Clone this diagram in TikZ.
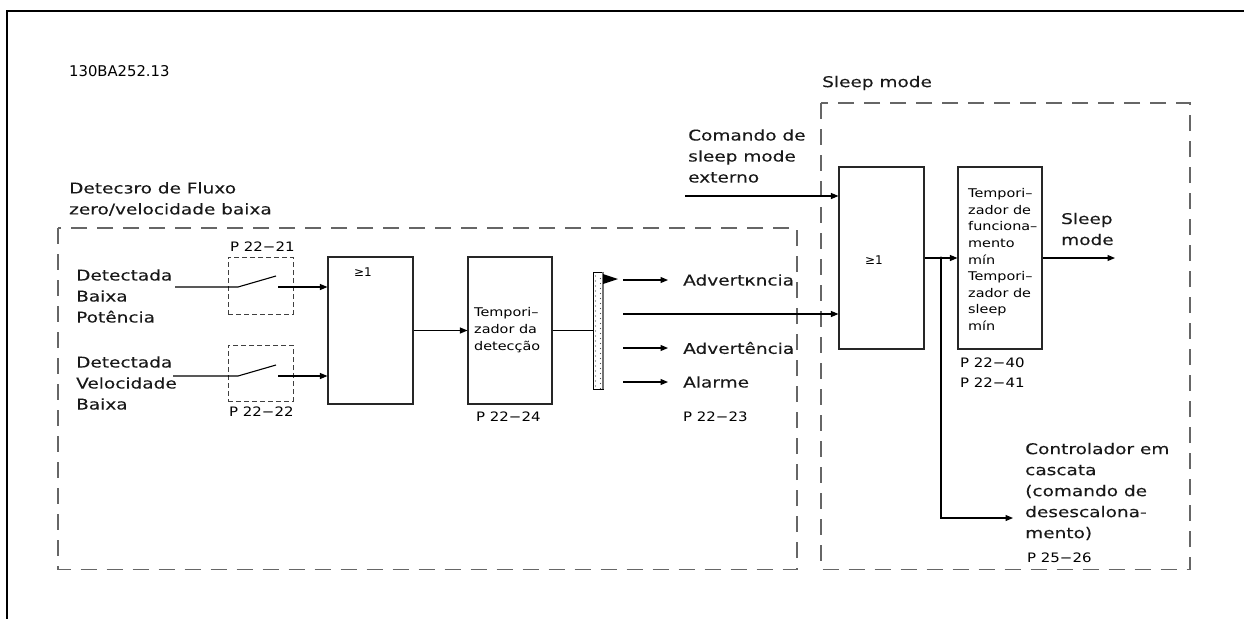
\documentclass[tikz,border=0pt]{standalone}
\usepackage{fontspec}
\usetikzlibrary{arrows.meta}
\newfontfamily\bigf[FakeStretch=1.25,FakeBold=0.1]{DejaVu Sans}
\newfontfamily\cadf[FakeStretch=1.2]{DejaVu Sans}
\newfontfamily\plabf[FakeStretch=1.15]{DejaVu Sans}
\newfontfamily\plainf{DejaVu Sans}
\begin{document}
\begin{tikzpicture}[x=1pt,y=-1pt,
  big/.style={font=\bigf\fontsize{14.8}{21}\selectfont, text=black!90, inner sep=0, align=left, anchor=west},
  cad/.style={font=\cadf\fontsize{12}{16.6}\selectfont, inner sep=0, align=left, anchor=west},
  plab/.style={font=\plabf\fontsize{13}{20}\selectfont, inner sep=0, anchor=west},
  gesym/.style={font=\plainf\fontsize{12}{14}\selectfont, inner sep=0},
  blk/.style={draw=black!85, line width=1.1pt, inner sep=0},
  grp/.style={draw=black!60, line width=1.3pt, dash pattern=on 16pt off 10pt},
  swb/.style={draw=black!75, line width=1pt, dash pattern=on 5pt off 3pt, inner sep=0},
  wire/.style={line width=1.1pt},
  arr/.style={wire, -{Triangle[length=7.5pt,width=6pt]}},
]
\useasboundingbox (0,0) rectangle (1244,619);
% outer frame
\draw[line width=1.2pt] (1244,11) -- (7,11) -- (7,619);

% group boxes
\draw[grp] (58,228) rectangle (797,569.5);
\draw[grp] (821,103) rectangle (1190,569.5);

% labels
\node[plab, font=\plainf\fontsize{14.8}{16}\selectfont] (id) at (69,71) {130BA252.13};
\node[big] (t1) at (69,199) {Detecзro de Fluxo\\zero/velocidade baixa};
\node[big] (t2) at (822,83) {Sleep mode};

% inputs
\node[big] (in1) at (76,296) {Detectada\\Baixa\\Potência};
\node[big] (in2) at (76,383) {Detectada\\Velocidade\\Baixa};

% switches
\node[swb, minimum width=65, minimum height=57] (sw1) at (260.5,285.5) {};
\node[swb, minimum width=65, minimum height=56] (sw2) at (260.5,373) {};
\node[plab] (p2221) at (230,247) {P 22−21};
\node[plab] (p2222) at (229,412) {P 22−22};

% OR 1
\node[blk, minimum width=85, minimum height=147] (or1) at (370.5,330.5) {};
\node[gesym] (ge1) at (363,272) {≥1};

% timer 1
\node[blk, minimum width=84, minimum height=147] (tm1) at (510,330.5) {};
\node[cad] (tm1t) at (474,330) {Tempori–\\zador da\\detecção};
\node[plab] (p2224) at (476,417) {P 22−24};

% bar
\node[draw=black, line width=0.9pt, minimum width=10, minimum height=117, inner sep=0] (bar) at (598,330.5) {};
\foreach \yy in {276,281,...,386} {
  \fill[black!70] (595.5,\yy) circle (0.55);
  \fill[black!70] (600.5,\yy+2.5) circle (0.55);
}
\draw[line width=2pt, black!55] (bar.north east) -- (bar.south east);
\fill (603,274) -- (618,279) -- (603,284) -- cycle;

% switch wires
\coordinate (s1a) at (175,287);
\coordinate (s1b) at (238,287);
\coordinate (s1c) at (276,276);
\coordinate (s1d) at (278,287);
\draw[wire] (s1a) -- (s1b) -- (s1c);
\draw[arr] (s1d) -- (s1d -| or1.west);
\coordinate (s2a) at (173,376);
\coordinate (s2b) at (238,376);
\coordinate (s2c) at (276,365);
\coordinate (s2d) at (278,376);
\draw[wire] (s2a) -- (s2b) -- (s2c);
\draw[arr] (s2d) -- (s2d -| or1.west);

\draw[arr] (or1.east) -- (tm1.west);
\draw[wire] (tm1.east) -- (bar.west);

% outputs
\node[big] (adv1) at (683,280) {Advertкncia};
\node[big] (adv2) at (683,348) {Advertência};
\node[big] (alm) at (683,382) {Alarme};
\node[plab] (p2223) at (683,417) {P 22−23};
\coordinate (a1) at (623,280);
\coordinate (a2) at (623,348);
\coordinate (a3) at (623,382);
\coordinate (b0) at (623,314);
\draw[arr] (a1) -- ([xshift=-15pt]adv1.west);
\draw[arr] (a2) -- ([xshift=-15pt]adv2.west);
\draw[arr] (a3) -- ([xshift=-15pt]alm.west);

% sleep mode part
\node[big] (cmd) at (688,156) {Comando de\\sleep mode\\externo};
\node[blk, minimum width=85, minimum height=182] (or2) at (881.5,258) {};
\node[gesym] (ge2) at (874,260) {≥1};
\node[blk, minimum width=84, minimum height=182] (tm2) at (1000,258) {};
\node[cad] (tm2t) at (968,259.5) {Tempori–\\zador de\\funciona–\\mento\\mín\\Tempori–\\zador de\\sleep\\mín};
\node[plab] (p2240) at (960,363) {P 22−40};
\node[plab] (p2241) at (960,383) {P 22−41};
\node[big] (slo) at (1061,229) {Sleep\\mode};
\node[big] (ctrl) at (1025,491.5) {Controlador em\\cascata\\(comando de\\desescalona-\\mento)};
\node[plab] (p2526) at (1027,558) {P 25−26};

\coordinate (c0) at (685,196);
\draw[arr] (c0) -- (c0 -| or2.west);
\draw[arr] (b0) -- (b0 -| or2.west);
\draw[arr] (or2.east) -- (tm2.west);
\coordinate (j) at (941,258);
\coordinate (c1) at (941,518);
\coordinate (c2) at (1013,518);
\fill (j) circle (1.6);
\draw[arr] (j) -- (c1) -- (c2);
\coordinate (o1) at (1115,258);
\draw[arr] (tm2.east) -- (o1);
\end{tikzpicture}
\end{document}
